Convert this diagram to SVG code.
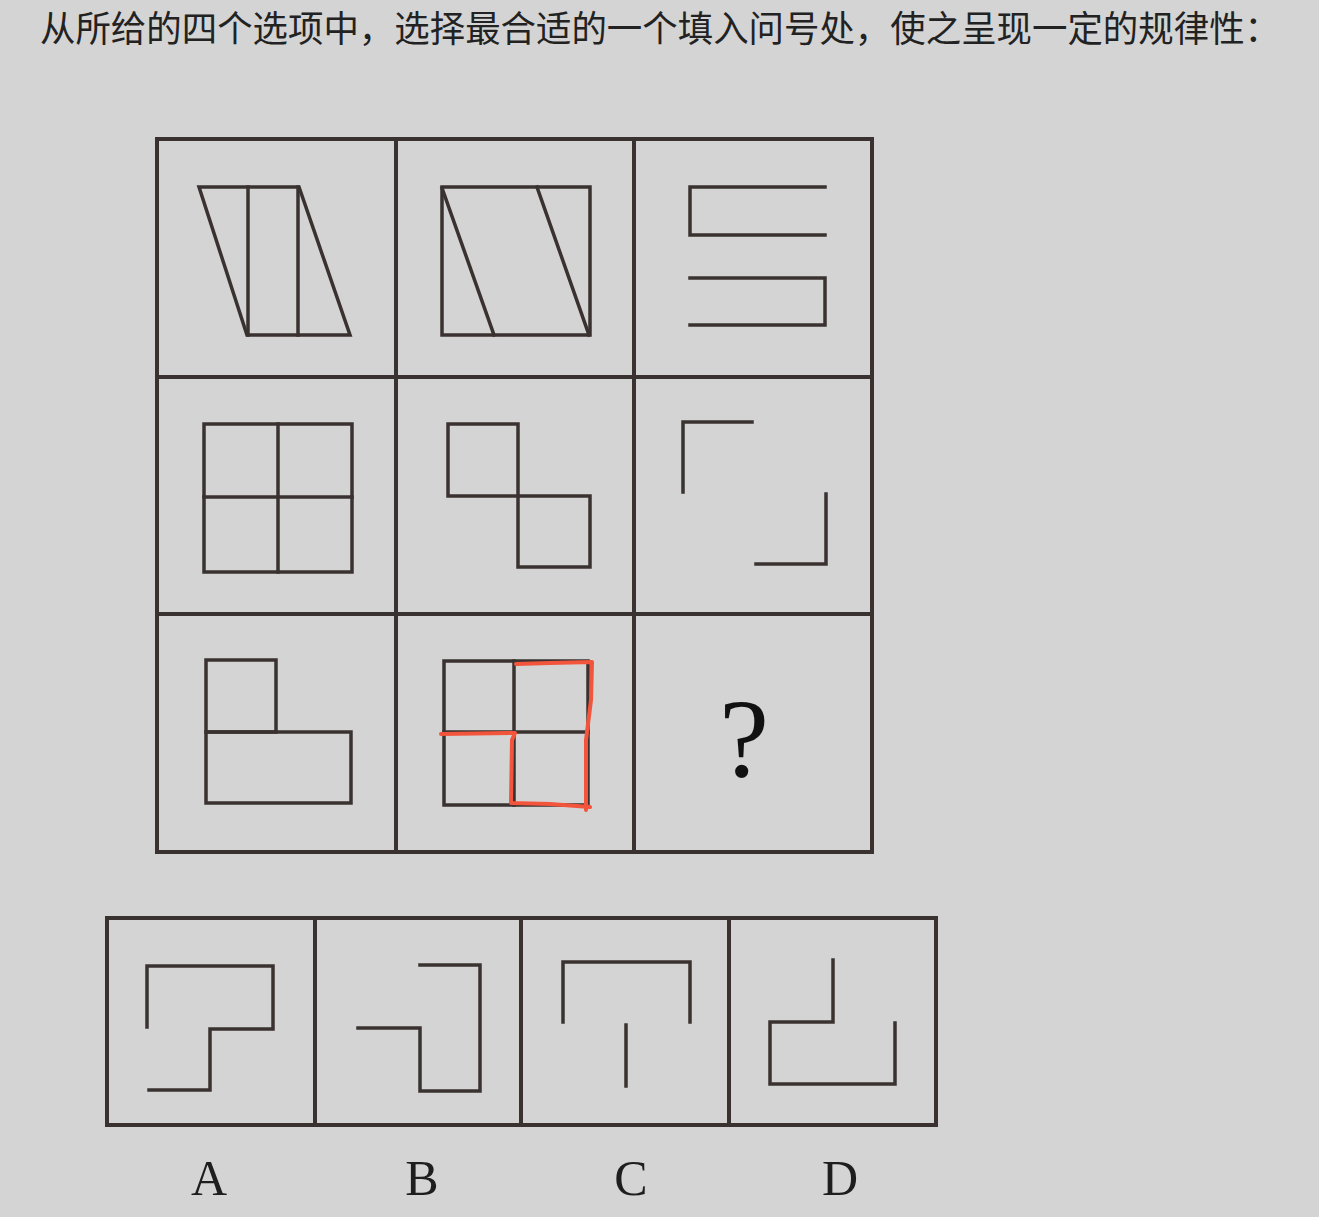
<svg xmlns="http://www.w3.org/2000/svg" width="1319" height="1217" viewBox="0 0 1319 1217">
<style>
.bg{fill:#d4d4d4}
.grid{fill:none;stroke:#3a3230;stroke-width:4;stroke-linecap:square}
.fig{fill:none;stroke:#3a3230;stroke-width:3.5;stroke-linecap:square;stroke-linejoin:miter}
.red{fill:none;stroke:#f2553c;stroke-width:4;stroke-linecap:round;stroke-linejoin:round}
.title{font-family:"Noto Sans CJK SC","Noto Sans",sans-serif;font-size:36px;fill:#222}
.lbl{font-family:"Liberation Serif",serif;font-size:50px;fill:#1e1e1e;text-anchor:middle}
.q{font-family:"Liberation Serif",serif;font-size:112px;fill:#111;text-anchor:middle}
</style>
<rect class="bg" x="0" y="0" width="1319" height="1217"/>
<text class="title" x="40" y="42" textLength="1240" lengthAdjust="spacingAndGlyphs">从所给的四个选项中，选择最合适的一个填入问号处，使之呈现一定的规律性：</text>

<g id="grid">
<rect class="grid" x="157" y="139" width="715" height="713"/>
<line class="grid" x1="396" y1="139" x2="396" y2="852"/>
<line class="grid" x1="634" y1="139" x2="634" y2="852"/>
<line class="grid" x1="157" y1="377" x2="872" y2="377"/>
<line class="grid" x1="157" y1="614" x2="872" y2="614"/>
</g>

<g id="cell1">
<path class="fig" d="M199,187 L299,187 L350,335 L247,335 Z"/>
<line class="fig" x1="248" y1="187" x2="248" y2="335"/>
<line class="fig" x1="298" y1="187" x2="298" y2="335"/>
</g>
<g id="cell2">
<rect class="fig" x="442" y="187" width="148" height="148"/>
<line class="fig" x1="442" y1="188" x2="494" y2="335"/>
<line class="fig" x1="537" y1="187" x2="589" y2="335"/>
</g>
<g id="cell3">
<path class="fig" d="M825,187 L690,187 L690,235 L825,235"/>
<path class="fig" d="M690,278 L825,278 L825,325 L690,325"/>
</g>
<g id="cell4">
<rect class="fig" x="204" y="424" width="148" height="148"/>
<line class="fig" x1="278" y1="424" x2="278" y2="572"/>
<line class="fig" x1="204" y1="497" x2="352" y2="497"/>
</g>
<g id="cell5">
<rect class="fig" x="448" y="424" width="70" height="72"/>
<rect class="fig" x="518" y="496" width="72" height="71"/>
</g>
<g id="cell6">
<path class="fig" d="M683,492 L683,422 L752,422"/>
<path class="fig" d="M826,494 L826,564 L756,564"/>
</g>
<g id="cell7">
<rect class="fig" x="206" y="660" width="70" height="72"/>
<rect class="fig" x="206" y="732" width="145" height="71"/>
</g>
<g id="cell8">
<rect class="fig" x="444" y="661" width="144" height="144"/>
<line class="fig" x1="514" y1="661" x2="514" y2="805"/>
<line class="fig" x1="444" y1="732" x2="588" y2="732"/>
<path class="red" d="M516,664 L550,663 L592,662 L591,700 L586,740 L586,810"/>
<path class="red" d="M441,734 L515,733 L512,740 L511,803 L550,804 L590,807"/>
</g>
<g id="cell9">
<text class="q" x="744" y="776">?</text>
</g>

<g id="options">
<rect class="grid" x="107" y="918" width="829" height="207"/>
<line class="grid" x1="315" y1="918" x2="315" y2="1125"/>
<line class="grid" x1="521" y1="918" x2="521" y2="1125"/>
<line class="grid" x1="729" y1="918" x2="729" y2="1125"/>
</g>
<g id="optA">
<path class="fig" d="M147,1027 L147,966 L273,966 L273,1029 L210,1029 L210,1090 L149,1090"/>
</g>
<g id="optB">
<path class="fig" d="M420,965 L480,965 L480,1091 L420,1091 L420,1028 L358,1028"/>
</g>
<g id="optC">
<path class="fig" d="M563,1022 L563,962 L690,962 L690,1022"/>
<line class="fig" x1="626" y1="1025" x2="626" y2="1086"/>
</g>
<g id="optD">
<path class="fig" d="M833,960 L833,1022 L770,1022 L770,1084 L895,1084 L895,1023"/>
</g>
<g id="labels">
<text class="lbl" x="209" y="1195">A</text>
<text class="lbl" x="422" y="1195">B</text>
<text class="lbl" x="631" y="1195">C</text>
<text class="lbl" x="840" y="1195">D</text>
</g>
</svg>
